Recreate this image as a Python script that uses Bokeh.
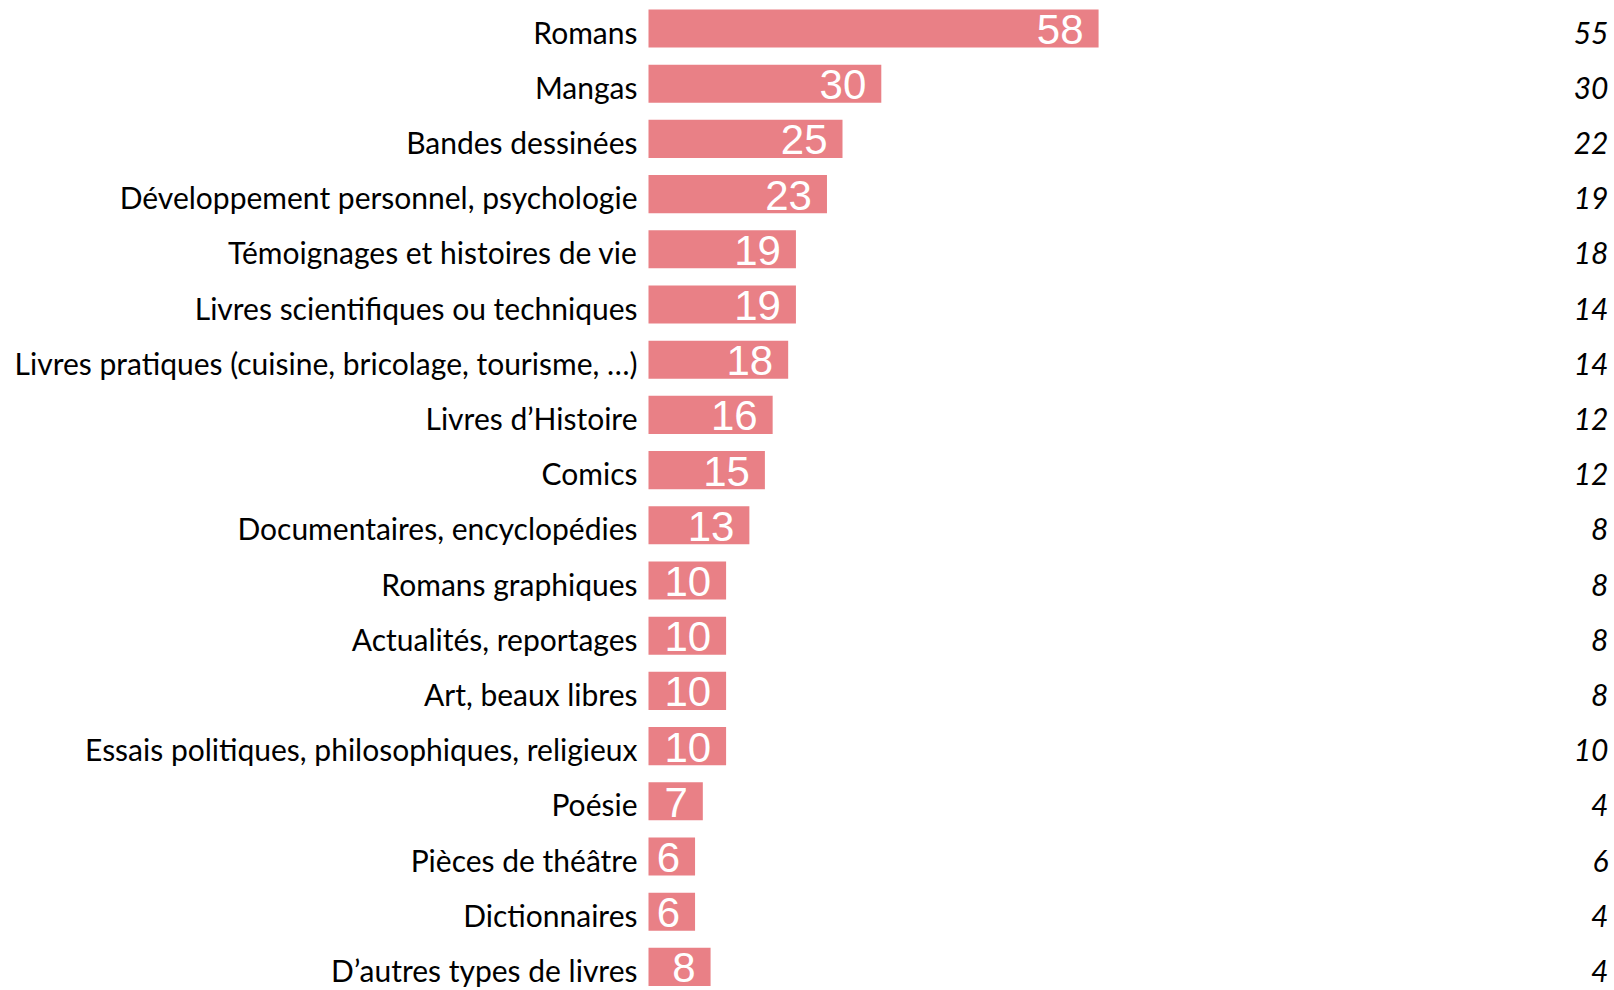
from bokeh.plotting import figure
from bokeh.models import ColumnDataSource, Range1d
from bokeh.embed import file_html
from bokeh.resources import INLINE
from bokeh.core.properties import value

categories = ["Romans", "Mangas", "Bandes dessinées",
              "Développement personnel, psychologie",
              "Témoignages et histoires de vie",
              "Livres scientifiques ou techniques",
              "Livres pratiques (cuisine, bricolage, tourisme, …)",
              "Livres d’Histoire", "Comics", "Documentaires, encyclopédies",
              "Romans graphiques", "Actualités, reportages", "Art, beaux libres",
              "Essais politiques, philosophiques, religieux", "Poésie",
              "Pièces de théâtre", "Dictionnaires", "D’autres types de livres"]
values = [58, 30, 25, 23, 19, 19, 18, 16, 15, 13, 10, 10, 10, 10, 7, 6, 6, 8]
previous = [55, 30, 22, 19, 18, 14, 14, 12, 12, 8, 8, 8, 8, 10, 4, 6, 4, 4]

W, H = 1614, 990
px_per_unit = 7.76
x0_px = 648
row_px = 55.2
first_row_px = 28.0

xstart = -x0_px / px_per_unit
xend = xstart + W / px_per_unit
ytop = -first_row_px / row_px
ybottom = ytop + H / row_px

idx = list(range(len(categories)))
src = ColumnDataSource(dict(
    y=idx, v=values, cat=categories,
    vlab=[str(v) for v in values],
    prev=[str(v) for v in previous],
    zero=[0] * len(idx),
    right=[xend] * len(idx),
))

p = figure(width=W, height=H, output_backend="svg", toolbar_location=None,
           x_range=Range1d(xstart, xend), y_range=Range1d(ybottom, ytop),
           min_border=0, outline_line_color=None)
p.axis.visible = False
p.grid.visible = False
p.background_fill_color = "white"
p.border_fill_color = "white"

p.hbar(y="y", left=0, right="v", height=0.69, source=src,
       fill_color="#E98086", line_color=None)

p.text(x="zero", y="y", text="cat", source=src, text_align="right",
       text_baseline="middle", x_offset=-11, y_offset=3, text_color="black",
       text_font=value("Lato"), text_font_size="30px")

p.text(x="v", y="y", text="vlab", source=src, text_align="right",
       text_baseline="middle", x_offset=-15, y_offset=1, text_color="white",
       text_font=value("Liberation Sans"), text_font_size="42px")

p.text(x="right", y="y", text="prev", source=src, text_align="right",
       text_baseline="middle", x_offset=-6, y_offset=4, text_color="black",
       text_font=value("Lato"), text_font_style="italic", text_font_size="30px")

open("out.html", "w").write(file_html(p, INLINE))
